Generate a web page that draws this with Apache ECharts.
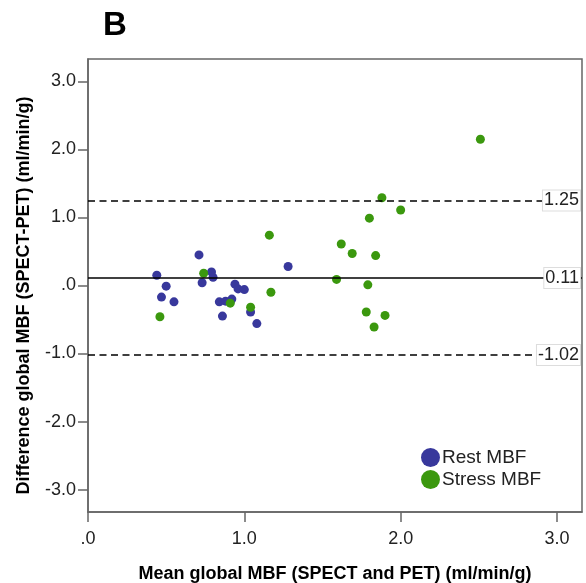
<!DOCTYPE html>
<html>
<head>
<meta charset="utf-8">
<script src="https://cdn.jsdelivr.net/npm/echarts@6/dist/echarts.min.js"></script>
<style>
html,body{margin:0;padding:0;background:#fff;}
#chart{width:586px;height:583px;}
</style>
</head>
<body>
<div id="chart"></div>
<script>
// Data
const restMean = [0.71, 1.28, 0.44, 0.79, 0.80, 0.73, 0.50, 0.94, 0.96, 1.00, 0.47, 0.55, 0.84, 0.88, 0.92, 1.04, 0.86, 1.08];
const restDiff = [0.45, 0.28, 0.15, 0.20, 0.12, 0.04, -0.01, 0.02, -0.05, -0.06, -0.17, -0.24, -0.24, -0.23, -0.20, -0.39, -0.45, -0.56];
const stressMean = [1.16, 0.74, 1.17, 0.91, 1.04, 0.46, 2.51, 1.88, 2.00, 1.80, 1.62, 1.69, 1.84, 1.59, 1.79, 1.78, 1.90, 1.83];
const stressDiff = [0.74, 0.18, -0.10, -0.26, -0.32, -0.46, 2.15, 1.29, 1.11, 0.99, 0.61, 0.47, 0.44, 0.09, 0.01, -0.39, -0.44, -0.61];
const seriesNames = ['Rest MBF', 'Stress MBF'];
const meanDiff = 0.11;
const upperLoA = 1.25;
const lowerLoA = -1.02;
const xTicks = [0, 1, 2, 3];
const yTicks = [-3, -2, -1, 0, 1, 2, 3];

const fmt = v => (Math.abs(v) < 1e-9 ? '.0' : v.toFixed(1));
const pair = (xs, ys) => xs.map((x, i) => [x, ys[i]]);

const FONT = '"Liberation Sans", Arial, Helvetica, sans-serif';
const lblStyle = {
  fontSize: 18, fontFamily: FONT, color: '#222',
  backgroundColor: '#fff', borderColor: '#ddd', borderWidth: 1,
  padding: [1, 1, 1, 1], position: 'insideEnd', distance: 2,
  formatter: p => String(p.value)
};

const chart = echarts.init(document.getElementById('chart'), null, {renderer: 'canvas'});
chart.setOption({
  animation: false,
  backgroundColor: '#fff',
  title: {
    text: 'B', left: 98, top: 4,
    textStyle: {fontSize: 33, fontWeight: 'bold', fontFamily: FONT, color: '#000'}
  },
  grid: {
    left: 88, right: 4, top: 59, bottom: 71,
    show: true, borderColor: '#666', borderWidth: 1.5, backgroundColor: 'transparent',
    outerBoundsMode: 'none'
  },
  legend: {
    data: seriesNames, orient: 'vertical', left: 416, top: 443,
    icon: 'circle', itemWidth: 19, itemHeight: 19, itemGap: 3,
    textStyle: {fontSize: 19, fontFamily: FONT, color: '#222', padding: [0,0,0,-3]}
  },
  xAxis: {
    type: 'value', min: 0, max: 3.16,
    name: 'Mean global MBF (SPECT and PET) (ml/min/g)',
    nameLocation: 'middle', nameGap: 53,
    nameTextStyle: {fontSize: 18, fontWeight: 'bold', fontFamily: FONT, color: '#000'},
    axisLine: {show: true, onZero: false, lineStyle: {color: '#666', width: 1.5}},
    axisTick: {show: true, inside: false, length: 10, lineStyle: {color: '#666', width: 1.5}, customValues: xTicks},
    axisLabel: {margin: 18, fontSize: 18, fontFamily: FONT, color: '#222', formatter: fmt, customValues: xTicks},
    splitLine: {show: false}
  },
  yAxis: {
    type: 'value', min: -3.33, max: 3.33,
    name: 'Difference global MBF (SPECT-PET) (ml/min/g)',
    nameLocation: 'middle', nameGap: 55, nameRotate: 90,
    nameTextStyle: {fontSize: 18, fontWeight: 'bold', fontFamily: FONT, color: '#000', padding: [0, 20, 0, 0]},
    axisLine: {show: true, onZero: false, lineStyle: {color: '#666', width: 1.5}},
    axisTick: {show: true, inside: false, length: 10, lineStyle: {color: '#666', width: 1.5}, customValues: yTicks},
    axisLabel: {margin: 12, fontSize: 18, fontFamily: FONT, color: '#222', formatter: fmt, customValues: yTicks},
    splitLine: {show: false}
  },
  series: [
    {
      name: seriesNames[0], type: 'scatter', symbol: 'circle', symbolSize: 9,
      itemStyle: {color: '#38389c', opacity: 1},
      data: pair(restMean, restDiff),
      markLine: {
        silent: true, symbol: 'none', animation: false,
        label: lblStyle,
        data: [
          {yAxis: upperLoA, lineStyle: {type: [7, 4.5], color: '#000', width: 1.5}},
          {yAxis: meanDiff, lineStyle: {type: 'solid', color: '#000', width: 1.5}},
          {yAxis: lowerLoA, lineStyle: {type: [7, 4.5], color: '#000', width: 1.5}}
        ]
      }
    },
    {
      name: seriesNames[1], type: 'scatter', symbol: 'circle', symbolSize: 9,
      itemStyle: {color: '#3b980e', opacity: 1},
      data: pair(stressMean, stressDiff)
    }
  ]
});
</script>
</body>
</html>
